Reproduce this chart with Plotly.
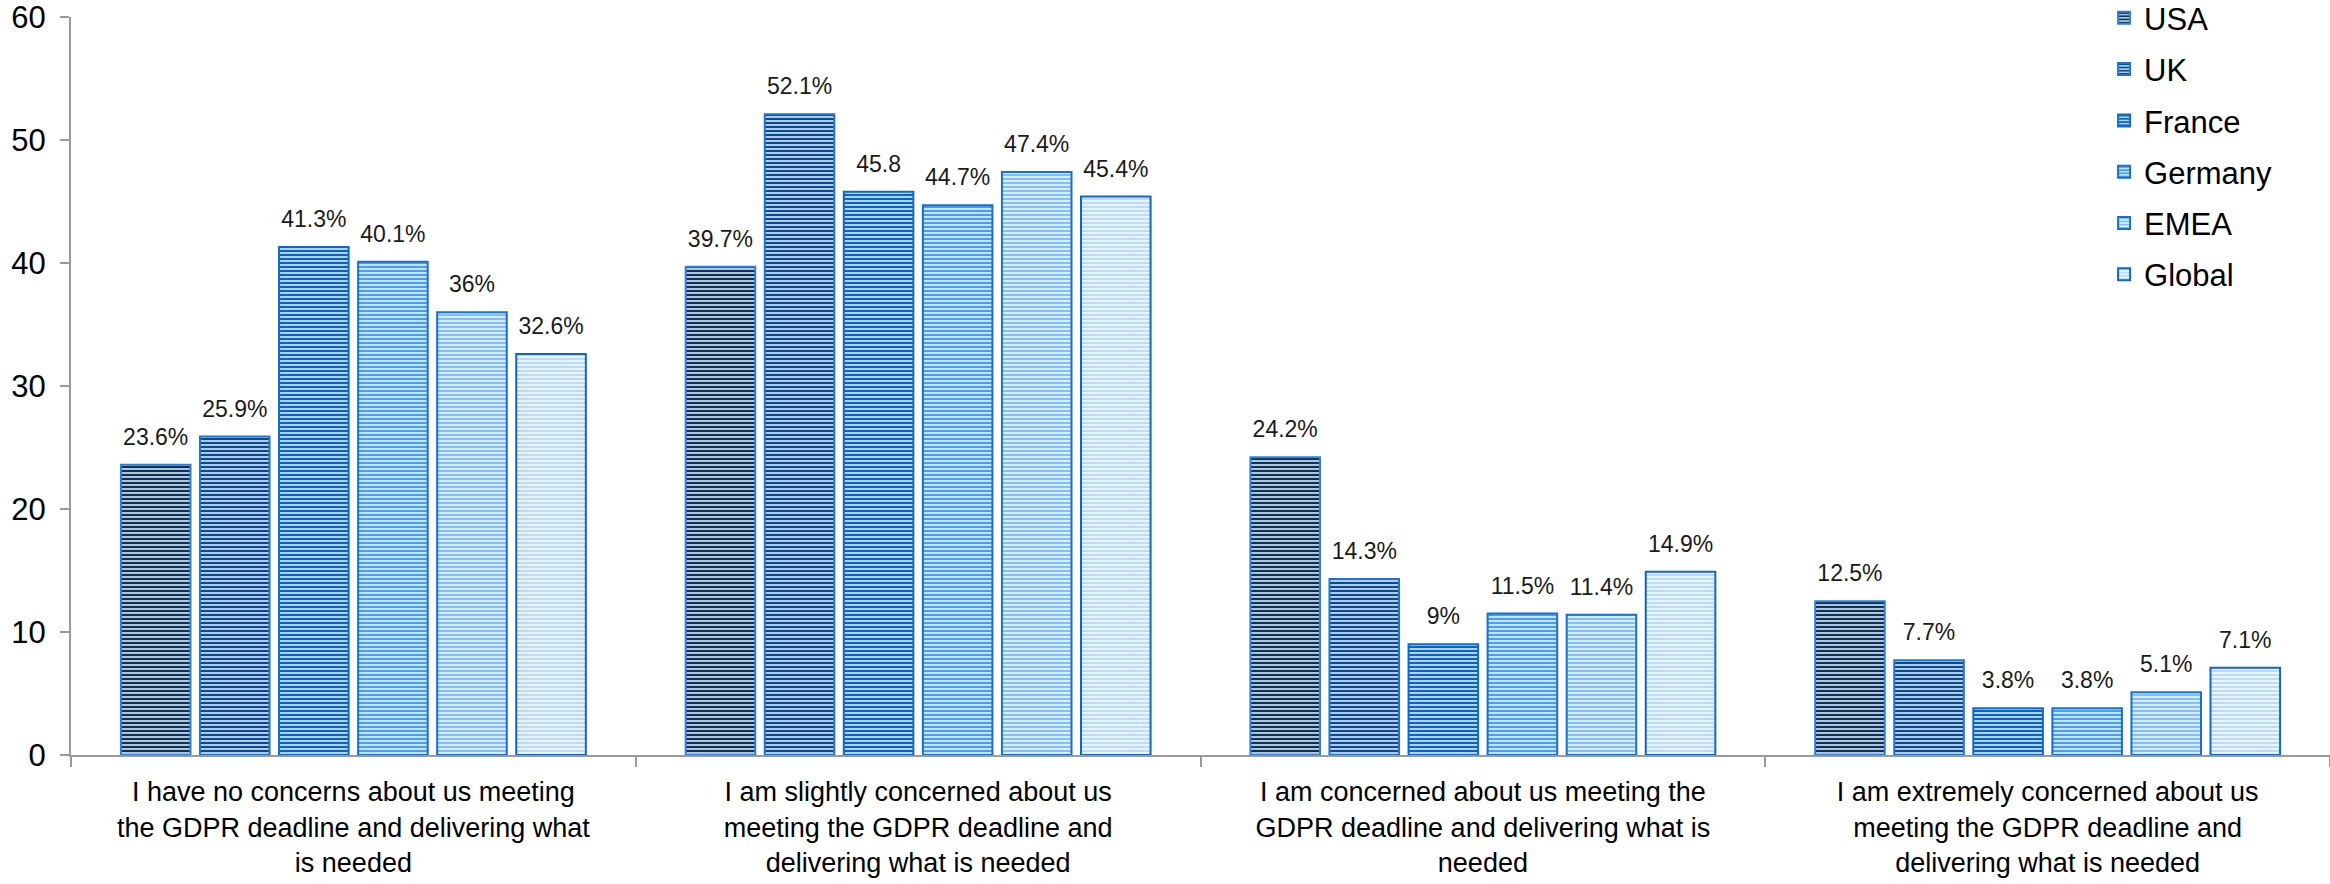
import plotly.graph_objects as go

categories = [
    "I have no concerns about us meeting<br>the GDPR deadline and delivering what<br>is needed",
    "I am slightly concerned about us<br>meeting the GDPR deadline and<br>delivering what is needed",
    "I am concerned about us meeting the<br>GDPR deadline and delivering what is<br>needed",
    "I am extremely concerned about us<br>meeting the GDPR deadline and<br>delivering what is needed",
]
series_names = ["USA", "UK", "France", "Germany", "EMEA", "Global"]
usa = [23.6, 39.7, 24.2, 12.5]
uk = [25.9, 52.1, 14.3, 7.7]
france = [41.3, 45.8, 9.0, 3.8]
germany = [40.1, 44.7, 11.5, 3.8]
emea = [36.0, 47.4, 11.4, 5.1]
global_ = [32.6, 45.4, 14.9, 7.1]
labels_usa = ["23.6%", "39.7%", "24.2%", "12.5%"]
labels_uk = ["25.9%", "52.1%", "14.3%", "7.7%"]
labels_france = ["41.3%", "45.8", "9%", "3.8%"]
labels_germany = ["40.1%", "44.7%", "11.5%", "3.8%"]
labels_emea = ["36%", "47.4%", "11.4%", "5.1%"]
labels_global = ["32.6%", "45.4%", "14.9%", "7.1%"]

values = [usa, uk, france, germany, emea, global_]
labels = [labels_usa, labels_uk, labels_france, labels_germany, labels_emea, labels_global]
colors = ["#08335F", "#064C94", "#0566C6", "#45A0F2", "#82BFF6", "#BBDBF8"]
outline = ["#2F7FD6", "#1E74D0", "#1268C8", "#1570D0", "#1670D0", "#0E66C8"]

FONT = "Liberation Sans, Arial, sans-serif"
GAP = 0.16

fig = go.Figure()
for i, name in enumerate(series_names):
    fig.add_trace(go.Bar(
        name=name,
        x=categories,
        y=values[i],
        legendgroup=name,
        offsetgroup=name,
        hoverinfo="x+y+name",
        marker=dict(
            color="white",
            line=dict(color=outline[i], width=2),
            pattern=dict(shape="-", fgcolor=colors[i], bgcolor="white",
                         size=4, solidity=0.65, fillmode="replace"),
        ),
    ))

# value labels as grouped text-only scatter traces aligned with the bars
for i, name in enumerate(series_names):
    fig.add_trace(go.Scatter(
        x=categories,
        y=values[i],
        text=labels[i],
        mode="markers+text",
        textposition="top center",
        textfont=dict(size=23, color="#1a1a1a", family=FONT),
        marker=dict(size=21, opacity=0),
        offsetgroup=name,
        showlegend=False,
        hoverinfo="skip",
        cliponaxis=False,
    ))

fig.update_layout(
    width=2330, height=884,
    margin=dict(l=71, r=0, t=17, b=129, autoexpand=False),
    paper_bgcolor="white", plot_bgcolor="white",
    barmode="group", bargap=GAP, bargroupgap=0.12,
    scattermode="group", scattergap=GAP,
    font=dict(family=FONT, color="#000000"),
    showlegend=True,
    legend=dict(
        x=0.9, xanchor="left", y=1.035, yanchor="top",
        font=dict(size=31, family=FONT, color="#000000"),
        traceorder="grouped", tracegroupgap=8,
        bgcolor="rgba(0,0,0,0)", itemwidth=30,
    ),
)
fig.update_xaxes(
    showline=True, linecolor="#9A9A9A", linewidth=2,
    ticks="outside", ticklen=10, tickcolor="#9A9A9A", tickwidth=2,
    tickson="boundaries",
    tickfont=dict(size=27, family=FONT, color="#000000"),
    ticklabelstandoff=12,
    showgrid=False, zeroline=False,
)
fig.update_yaxes(
    range=[0, 60], dtick=10,
    showline=True, linecolor="#9A9A9A", linewidth=2,
    ticks="outside", ticklen=9, tickcolor="#9A9A9A", tickwidth=2,
    tickfont=dict(size=31, family=FONT, color="#000000"),
    ticklabelstandoff=8, ticklabeloverflow="allow",
    showgrid=False, zeroline=False,
)

fig.write_html("out.html")
